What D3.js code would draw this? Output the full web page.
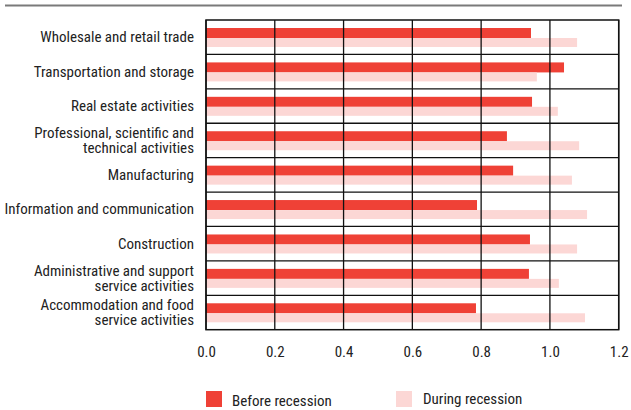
<!DOCTYPE html>
<html><head><meta charset="utf-8">
<script src="https://cdn.jsdelivr.net/npm/d3@7"></script>
<style>
body{margin:0;background:#fff;}
svg{display:block;font-family:'Roboto Condensed',sans-serif;}
</style></head>
<body><svg id="chart" width="631" height="410"></svg>
<script>
const categories = [
  ["Wholesale and retail trade"],
  ["Transportation and storage"],
  ["Real estate activities"],
  ["Professional, scientific and", "technical activities"],
  ["Manufacturing"],
  ["Information and communication"],
  ["Construction"],
  ["Administrative and support", "service activities"],
  ["Accommodation and food", "service activities"]
];
const beforeRecession = [0.945, 1.041, 0.948, 0.875, 0.893, 0.788, 0.942, 0.939, 0.785];
const duringRecession = [1.079, 0.962, 1.023, 1.085, 1.064, 1.108, 1.079, 1.026, 1.102];
const xTicks = [0, 0.2, 0.4, 0.6, 0.8, 1.0, 1.2];
const seriesNames = ["Before recession", "During recession"];
const colors = ["#ef4136", "#fcd7d5"];

(function () {
const svg = d3.select("#chart");
const FS = 15;
const FF = "'Roboto Condensed',sans-serif";
const L = 206, R = 618.7, T = 20, B = 329.7;
const x = d3.scaleLinear().domain([0, 1.2]).range([L, R]);
const idx = categories.map((d, i) => i);
const y = d3.scaleBand().domain(idx).range([T, B]).paddingInner(0).paddingOuter(0);

svg.append("line").attr("x1", 5).attr("x2", 622).attr("y1", 5.5).attr("y2", 5.5)
  .attr("stroke", "#7a7a7a").attr("stroke-width", 2);

const bw = y.bandwidth();
const g = svg.append("g");
idx.forEach(i => {
  const y0 = y(i) + 8;
  g.append("rect").attr("x", x(0)).attr("y", y0).attr("width", x(beforeRecession[i]) - x(0))
    .attr("height", 10).attr("fill", colors[0]);
  g.append("rect").attr("x", x(0)).attr("y", y0 + 10).attr("width", x(duringRecession[i]) - x(0))
    .attr("height", 9).attr("fill", colors[1]);
});

xTicks.forEach(t => {
  svg.append("line").attr("x1", x(t)).attr("x2", x(t)).attr("y1", T).attr("y2", B)
    .attr("stroke", "#111").attr("stroke-width", 1.3);
});
idx.slice(1).forEach(i => {
  svg.append("line").attr("x1", L).attr("x2", R).attr("y1", y(i)).attr("y2", y(i))
    .attr("stroke", "#111").attr("stroke-width", 1.3);
});
svg.append("rect").attr("x", L).attr("y", T).attr("width", R - L).attr("height", B - T)
  .attr("fill", "none").attr("stroke", "#111").attr("stroke-width", 1.5);

const xAxis = d3.axisBottom(x).tickValues(xTicks).tickFormat(d3.format(".1f")).tickSize(0).tickPadding(0);
const ax = svg.append("g").attr("transform", `translate(0,${B})`).call(xAxis);
ax.select(".domain").remove();
ax.selectAll("text").attr("y", 27).attr("dy", 0).attr("font-size", FS).attr("fill", "#222")
  .style("font-family", FF);

idx.forEach(i => {
  const lines = categories[i];
  const cy = y(i) + bw / 2;
  const t = svg.append("text").attr("text-anchor", "end").attr("font-size", FS).attr("fill", "#222");
  const lh = 15;
  lines.forEach((ln, k) => {
    t.append("tspan").attr("x", 194).attr("y", cy + 5 + (k - (lines.length - 1) / 2) * lh).text(ln);
  });
});

const leg = [{x: 206, tx: 232, ty: 406}, {x: 396, tx: 423, ty: 404}];
seriesNames.forEach((n, k) => {
  svg.append("rect").attr("x", leg[k].x).attr("y", 391).attr("width", 16).attr("height", 16).attr("fill", colors[k]);
  svg.append("text").attr("x", leg[k].tx).attr("y", leg[k].ty).attr("font-size", FS).attr("fill", "#222").text(n);
});
})();
</script></body></html>
